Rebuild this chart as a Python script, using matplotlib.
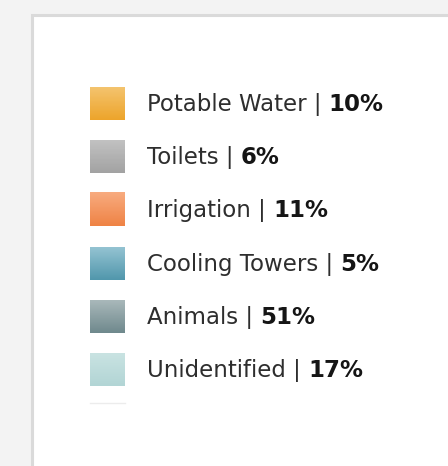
import numpy as np
import matplotlib.pyplot as plt
from matplotlib.patches import Rectangle
from matplotlib.colors import to_rgb

# legend entries
categories = ['Potable Water', 'Toilets', 'Irrigation', 'Cooling Towers', 'Animals', 'Unidentified']
shares = [10, 6, 11, 5, 51, 17]
top_colors = ['#f4c46e', '#c2c2c2', '#f8ab7f', '#94c3d2', '#a9b8ba', '#c9e3e2']
bottom_colors = ['#eda42b', '#a2a2a2', '#ef8345', '#5197ac', '#6f898d', '#b2d5d5']

fig = plt.figure(figsize=(4.48, 4.66), dpi=100)
fig.patch.set_facecolor('#f3f3f3')
ax = fig.add_axes([0, 0, 1, 1])
ax.set_xlim(0, 448)
ax.set_ylim(466, 0)
ax.axis('off')

# card
ax.add_patch(Rectangle((32, 15), 430, 470, facecolor='white', edgecolor='#dadada', lw=2.2))

x0 = 90
w, h = 35, 33
y_top = 87
step = 53.2

for i, (cat, pct) in enumerate(zip(categories, shares)):
    y = y_top + i * step
    c1 = np.array(to_rgb(top_colors[i]))
    c2 = np.array(to_rgb(bottom_colors[i]))
    t = np.linspace(0, 1, 40)[:, None]
    grad = (c1 * (1 - t) + c2 * t)[:, None, :]
    ax.imshow(grad, extent=(x0, x0 + w, y + h, y), aspect='auto', interpolation='bilinear', zorder=2)
    txt = ax.text(147, y + h / 2 + 7.5, f'{cat} | ', fontsize=16.5, color='#2e2e2e',
                  va='baseline', ha='left', family='DejaVu Sans')
    ax.annotate(f'{pct}%', xy=(1, 0), xycoords=txt, va='bottom', ha='left',
                fontsize=16.5, fontweight='bold', color='#151515', family='DejaVu Sans')

# faint top edge of a clipped next entry
ax.plot([x0, x0 + w], [y_top + 6 * step - 3, y_top + 6 * step - 3], color='#ececec', lw=1)

fig.savefig('out.png', dpi=100, facecolor=fig.get_facecolor())
